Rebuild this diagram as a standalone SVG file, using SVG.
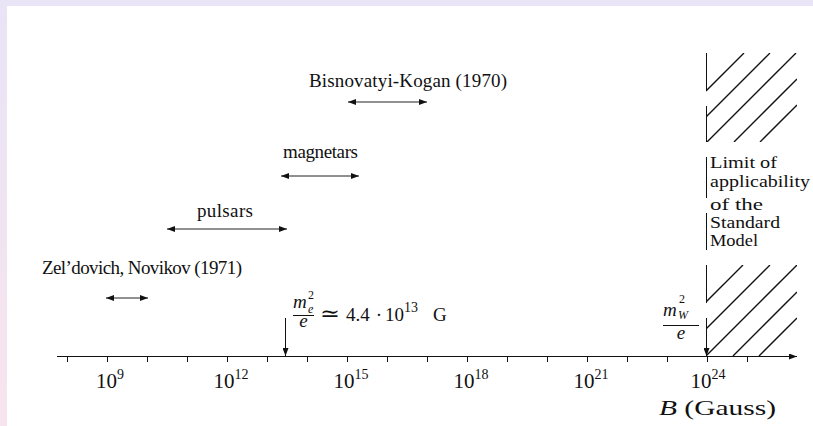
<svg xmlns="http://www.w3.org/2000/svg" width="813" height="426" viewBox="0 0 813 426">
<defs>
<linearGradient id="lband" x1="0" y1="0" x2="0" y2="1">
<stop offset="0" stop-color="#e9e4f6"/>
<stop offset="1" stop-color="#f7e4ee"/>
</linearGradient>
<marker id="ah" markerUnits="userSpaceOnUse" markerWidth="8" markerHeight="6" refX="8" refY="3" orient="auto-start-reverse">
<path d="M0,0 L8,3 L0,6 z" fill="#111"/>
</marker>
<clipPath id="clipTop"><rect x="706" y="53" width="91" height="89"/></clipPath>
<clipPath id="clipBot"><rect x="706" y="265" width="91" height="91"/></clipPath>
<style>
text { font-family: "Liberation Serif", "DejaVu Serif", serif; fill: #111; }
.lbl { font-size: 19px; }
.tick { font-size: 21px; }
.sup { font-size: 14px; }
.sm { font-size: 12px; }
.lim { font-size: 16.5px; }
.it { font-style: italic; }
.ln { stroke: #111; stroke-width: 1; fill: none; }
.rng { stroke: #222; stroke-width: 1; fill: none; marker-start: url(#ah); marker-end: url(#ah); }
.hat { stroke: #111; stroke-width: 1.4; fill: none; }
</style>
</defs>
<rect x="0" y="0" width="813" height="426" fill="#ffffff"/>
<rect x="0" y="0" width="813" height="6" fill="#e9e4f6"/>
<rect x="0" y="0" width="7" height="426" fill="url(#lband)"/>

<g id="connectors">
<line class="rng" x1="348" y1="102" x2="427" y2="102"/>
<line class="rng" x1="281" y1="176" x2="359" y2="176"/>
<line class="rng" x1="167" y1="229" x2="287" y2="229"/>
<line class="rng" x1="106" y1="298" x2="148" y2="298"/>
<line class="ln" x1="285.5" y1="318" x2="285.5" y2="356" marker-end="url(#ah)"/>
<line class="ln" x1="706.5" y1="318" x2="706.5" y2="356" marker-end="url(#ah)"/>
</g>

<g id="axis">
<line class="ln" x1="57" y1="356.5" x2="797" y2="356.5" marker-end="url(#ah)"/>
<path class="ln" stroke="#444" d="M67.5,357v5 M107.5,357v5 M147.5,357v5 M187.5,357v5 M227.5,357v5 M267.5,357v5 M307.5,357v5 M347.5,357v5 M387.5,357v5 M427.5,357v5 M467.5,357v5 M507.5,357v5 M547.5,357v5 M587.5,357v5 M627.5,357v5 M667.5,357v5 M707.5,357v5 M747.5,357v5"/>
<text class="tick" x="110" y="388" text-anchor="middle">10<tspan class="sup" dy="-9">9</tspan></text>
<text class="tick" x="231" y="388" text-anchor="middle">10<tspan class="sup" dy="-9">12</tspan></text>
<text class="tick" x="351" y="388" text-anchor="middle">10<tspan class="sup" dy="-9">15</tspan></text>
<text class="tick" x="471" y="388" text-anchor="middle">10<tspan class="sup" dy="-9">18</tspan></text>
<text class="tick" x="591" y="388" text-anchor="middle">10<tspan class="sup" dy="-9">21</tspan></text>
<text class="tick" x="708" y="388" text-anchor="middle">10<tspan class="sup" dy="-9">24</tspan></text>
<text x="659" y="415" font-size="22" textLength="117" lengthAdjust="spacingAndGlyphs"><tspan class="it">B</tspan> (Gauss)</text>
</g>

<g id="bisnovatyi">
<text class="lbl" x="309" y="87" textLength="198" lengthAdjust="spacing">Bisnovatyi-Kogan (1970)</text>
</g>
<g id="magnetars">
<text class="lbl" x="283" y="158" textLength="75" lengthAdjust="spacing">magnetars</text>
</g>
<g id="pulsars">
<text class="lbl" x="197" y="217" textLength="56" lengthAdjust="spacing">pulsars</text>
</g>
<g id="zeldovich">
<text class="lbl" x="42" y="274" textLength="200" lengthAdjust="spacing">Zel’dovich, Novikov (1971)</text>
</g>

<g id="me-mark">
<text class="lbl it" x="293" y="308">m</text>
<text class="sm" x="308" y="299">2</text>
<text class="sm it" x="308" y="313">e</text>
<line class="ln" x1="293" y1="315.5" x2="314" y2="315.5"/>
<text class="lbl it" x="303.5" y="327" text-anchor="middle">e</text>
<text x="320" y="321" font-size="22" textLength="20" lengthAdjust="spacingAndGlyphs">≃</text>
<text class="lbl" x="346" y="321" font-size="20">4.4</text>
<text class="lbl" x="379" y="321" font-size="20" text-anchor="middle">·</text>
<text class="lbl" x="385" y="321" font-size="20">10<tspan class="sup" dy="-9">13</tspan></text>
<text class="lbl" x="433" y="321" font-size="20">G</text>
</g>

<g id="mw-mark">
<text class="lbl it" x="663" y="316">m</text>
<text class="sm" x="679" y="303">2</text>
<text class="sm it" x="678" y="319">W</text>
<line class="ln" x1="663" y1="325.5" x2="699" y2="325.5"/>
<text class="lbl it" x="681" y="339" text-anchor="middle">e</text>
</g>

<g id="limit-region">
<g clip-path="url(#clipTop)">
<path class="hat" d="M706,91 L744,53 M706,117 L770,53 M706,143 L796,53 M734,142 L797,79 M760,142 L797,105"/>
</g>
<path class="ln" d="M706.5,53 V90 M706.5,106 V142"/>
<g clip-path="url(#clipBot)">
<path class="hat" d="M706,302 L743,265 M706,329 L770,265 M706,356 L797,265 M733,356 L797,292 M759,356 L797,318"/>
</g>
<path class="ln" d="M706.5,265 V303"/>
<path class="ln" d="M706.5,157 V198 M706.5,213 V250"/>
<text class="lim" x="710" y="168" textLength="67" lengthAdjust="spacingAndGlyphs">Limit of</text>
<text class="lim" x="710" y="187" textLength="100" lengthAdjust="spacingAndGlyphs">applicability</text>
<text class="lim" x="710" y="210" textLength="53" lengthAdjust="spacingAndGlyphs">of the</text>
<text class="lim" x="710" y="228" textLength="70" lengthAdjust="spacingAndGlyphs">Standard</text>
<text class="lim" x="710" y="246" textLength="48" lengthAdjust="spacingAndGlyphs">Model</text>
</g>
</svg>
